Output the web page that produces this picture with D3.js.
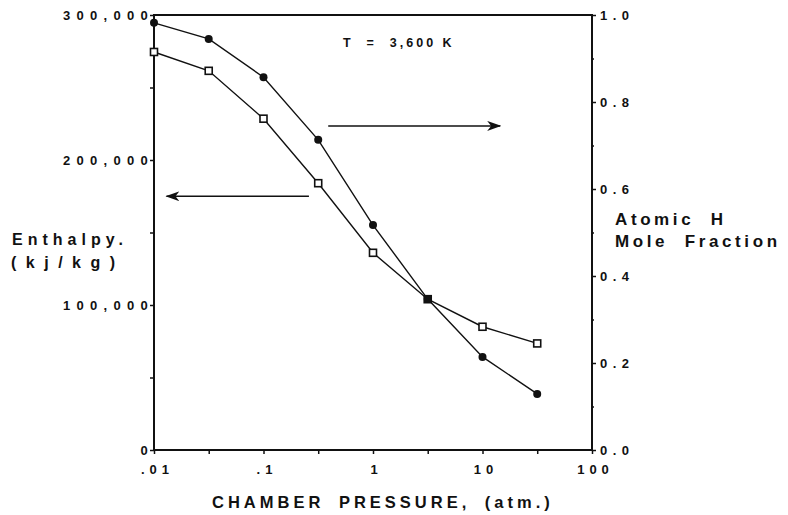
<!DOCTYPE html>
<html>
<head>
<meta charset="utf-8">
<script src="https://cdn.jsdelivr.net/npm/d3@7"></script>
<style>
  body { margin: 0; background: #fff; }
  svg { display: block; }
  text { font-family: "Liberation Sans", Arial, sans-serif; font-weight: bold; fill: #111; }
</style>
</head>
<body>
<div id="chart"></div>
<script>
// chamber pressure, atm
const pressure = [0.01, 0.0316, 0.1, 0.316, 1, 3.16, 10, 31.6];
// enthalpy, kj/kg (open squares, left axis)
const enthalpy = [274500, 261500, 228500, 184000, 136000, 104000, 85000, 73500];
// atomic H mole fraction (filled circles, right axis)
const moleFraction = [0.982, 0.945, 0.857, 0.713, 0.517, 0.347, 0.214, 0.129];

const xTicks = [0.01, 0.1, 1, 10, 100];
const xTickLabels = [".01", ".1", "1", "10", "100"];
const xMinor = [0.0316, 0.316, 3.16, 31.6];
const leftTicks = [0, 100000, 200000, 300000];
const leftMinor = [50000, 150000, 250000];
const rightTicks = [0, 0.2, 0.4, 0.6, 0.8, 1.0];
const rightMinor = [0.1, 0.3, 0.5, 0.7, 0.9];

const width = 788, height = 515;
const plot = { left: 154, right: 592, top: 15, bottom: 450 };

const svg = d3.select('#chart').append('svg')
    .attr('width', width)
    .attr('height', height);

const x = d3.scaleLog().domain([0.01, 100]).range([plot.left, plot.right]);
const yLeft = d3.scaleLinear().domain([0, 300000]).range([plot.bottom, plot.top]);
const yRight = d3.scaleLinear().domain([0, 1]).range([plot.bottom, plot.top]);

// frame
svg.append('rect')
    .attr('x', plot.left)
    .attr('y', plot.top)
    .attr('width', plot.right - plot.left)
    .attr('height', plot.bottom - plot.top)
    .attr('fill', 'none')
    .attr('stroke', '#111')
    .attr('stroke-width', 2);

// bottom axis
const xAxis = svg.append('g')
    .attr('transform', `translate(0,${plot.bottom})`)
    .call(d3.axisBottom(x)
        .tickValues(xTicks.concat(xMinor))
        .tickSize(4)
        .tickFormat(d => {
            const i = xTicks.indexOf(d);
            return i >= 0 ? xTickLabels[i] : '';
        }));
xAxis.select('.domain').remove();
xAxis.selectAll('line').attr('stroke', '#111').attr('stroke-width', 1.5);
xAxis.selectAll('text')
    .attr('dy', null)
    .attr('y', 24)
    .attr('x', 3)
    .attr('font-size', 13)
    .attr('letter-spacing', 5)
    .attr('fill', '#111');

// left axis
const leftAxis = svg.append('g')
    .attr('transform', `translate(${plot.left},0)`)
    .call(d3.axisLeft(yLeft)
        .tickValues(leftTicks.concat(leftMinor))
        .tickSize(4)
        .tickFormat(d => leftTicks.includes(d) ? d3.format(',')(d) : ''));
leftAxis.select('.domain').remove();
leftAxis.selectAll('line').attr('stroke', '#111').attr('stroke-width', 1.5);
leftAxis.selectAll('text')
    .attr('x', 0)
    .attr('font-size', 13)
    .attr('letter-spacing', 6.3)
    .attr('fill', '#111');

// right axis
const rightAxis = svg.append('g')
    .attr('transform', `translate(${plot.right},0)`)
    .call(d3.axisRight(yRight)
        .tickValues(rightTicks.concat(rightMinor))
        .tickSize(4)
        .tickFormat(d => rightTicks.includes(d) ? d3.format('.1f')(d) : ''));
rightAxis.select('.domain').remove();
rightAxis.selectAll('line').attr('stroke', '#111').attr('stroke-width', 1.5);
rightAxis.selectAll('.tick')
    .filter(d => rightMinor.includes(d))
    .select('line').attr('x2', 2);
rightAxis.selectAll('text')
    .attr('x', 8)
    .attr('font-size', 13)
    .attr('letter-spacing', 5.5)
    .attr('fill', '#111');

// axis titles
svg.append('text')
    .attr('x', 212)
    .attr('y', 508)
    .attr('font-size', 16.5)
    .attr('letter-spacing', 4)
    .attr('word-spacing', 6)
    .text('CHAMBER PRESSURE, (atm.)');

svg.append('text')
    .attr('x', 12)
    .attr('y', 245)
    .attr('font-size', 16)
    .attr('letter-spacing', 5)
    .text('Enthalpy.');
svg.append('text')
    .attr('x', 11)
    .attr('y', 268)
    .attr('font-size', 16)
    .attr('letter-spacing', 9.5)
    .text('(kj/kg)');

svg.append('text')
    .attr('x', 615)
    .attr('y', 225)
    .attr('font-size', 17)
    .attr('letter-spacing', 3.6)
    .attr('xml:space', 'preserve')
    .text('Atomic  H');
svg.append('text')
    .attr('x', 615)
    .attr('y', 247)
    .attr('font-size', 17)
    .attr('letter-spacing', 3.6)
    .attr('xml:space', 'preserve')
    .text('Mole  Fraction');

// temperature note
svg.append('text')
    .attr('x', 343)
    .attr('y', 47)
    .attr('font-family', '"Liberation Serif", "Times New Roman", serif')
    .attr('font-size', 12.5)
    .attr('letter-spacing', 3)
    .attr('xml:space', 'preserve')
    .text('T  =  3,600 K');

// arrows pointing each curve to its axis
const defs = svg.append('defs');
defs.append('marker')
    .attr('id', 'head')
    .attr('viewBox', '0 0 14 10')
    .attr('refX', 13)
    .attr('refY', 5)
    .attr('markerWidth', 14)
    .attr('markerHeight', 10)
    .attr('markerUnits', 'userSpaceOnUse')
    .attr('orient', 'auto')
    .append('path')
    .attr('d', 'M0,0 L14,5 L0,10 L4,5 Z')
    .attr('fill', '#111');

svg.append('line')
    .attr('x1', x(0.26)).attr('y1', yLeft(175000))
    .attr('x2', x(0.013)).attr('y2', yLeft(175000))
    .attr('stroke', '#111').attr('stroke-width', 1.5)
    .attr('marker-end', 'url(#head)');

svg.append('line')
    .attr('x1', x(0.39)).attr('y1', yRight(0.745))
    .attr('x2', x(14.5)).attr('y2', yRight(0.745))
    .attr('stroke', '#111').attr('stroke-width', 1.5)
    .attr('marker-end', 'url(#head)');

// enthalpy curve
const enthalpyLine = d3.line()
    .x((d, i) => x(pressure[i]))
    .y(d => yLeft(d));
svg.append('path')
    .datum(enthalpy)
    .attr('d', enthalpyLine)
    .attr('fill', 'none')
    .attr('stroke', '#111')
    .attr('stroke-width', 1.4);
svg.append('g')
    .selectAll('rect')
    .data(enthalpy)
    .enter().append('rect')
    .attr('x', (d, i) => x(pressure[i]) - 3.5)
    .attr('y', d => yLeft(d) - 3.5)
    .attr('width', 7)
    .attr('height', 7)
    .attr('fill', '#fff')
    .attr('stroke', '#111')
    .attr('stroke-width', 1.6);

// mole fraction curve
const moleLine = d3.line()
    .x((d, i) => x(pressure[i]))
    .y(d => yRight(d));
svg.append('path')
    .datum(moleFraction)
    .attr('d', moleLine)
    .attr('fill', 'none')
    .attr('stroke', '#111')
    .attr('stroke-width', 1.4);
svg.append('g')
    .selectAll('circle')
    .data(moleFraction)
    .enter().append('circle')
    .attr('cx', (d, i) => x(pressure[i]))
    .attr('cy', d => yRight(d))
    .attr('r', 4)
    .attr('fill', '#111');
</script>
</body>
</html>
